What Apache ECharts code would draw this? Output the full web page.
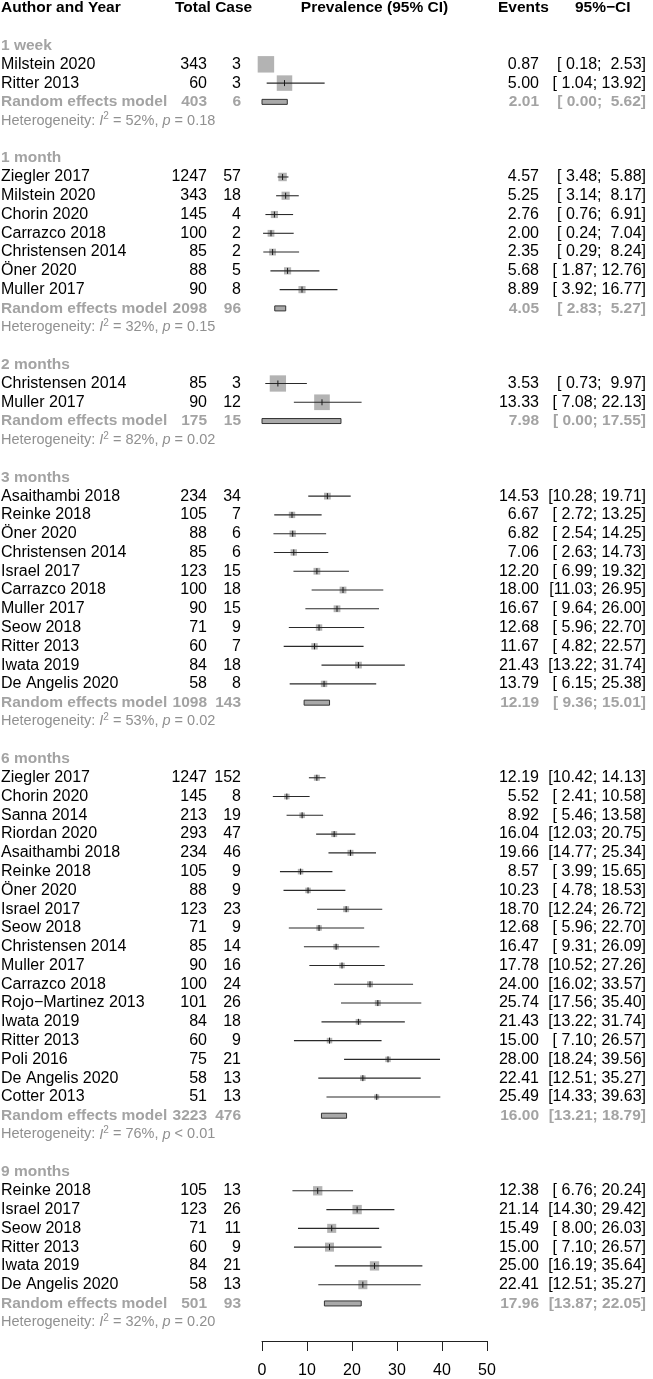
<!DOCTYPE html>
<html><head><meta charset="utf-8">
<script src="https://cdn.jsdelivr.net/npm/echarts@6/dist/echarts.min.js"></script>
<style>html,body{margin:0;padding:0;background:#fff}#c{width:653px;height:1379px}</style>
</head><body><div id="c"></div>
<script>
// ---------- DATA ----------
const groups = ['1 week', '1 month', '2 months', '3 months', '6 months', '9 months'];
const groupSizes = [2, 7, 2, 11, 18, 6];
const authors = [
  'Milstein 2020', 'Ritter 2013',
  'Ziegler 2017', 'Milstein 2020', 'Chorin 2020', 'Carrazco 2018', 'Christensen 2014', 'Öner 2020', 'Muller 2017',
  'Christensen 2014', 'Muller 2017',
  'Asaithambi 2018', 'Reinke 2018', 'Öner 2020', 'Christensen 2014', 'Israel 2017', 'Carrazco 2018', 'Muller 2017', 'Seow 2018', 'Ritter 2013', 'Iwata 2019', 'De Angelis 2020',
  'Ziegler 2017', 'Chorin 2020', 'Sanna 2014', 'Riordan 2020', 'Asaithambi 2018', 'Reinke 2018', 'Öner 2020', 'Israel 2017', 'Seow 2018', 'Christensen 2014', 'Muller 2017', 'Carrazco 2018', 'Rojo\u2212Martinez 2013', 'Iwata 2019', 'Ritter 2013', 'Poli 2016', 'De Angelis 2020', 'Cotter 2013',
  'Reinke 2018', 'Israel 2017', 'Seow 2018', 'Ritter 2013', 'Iwata 2019', 'De Angelis 2020'
];
const totals = [
  343, 60,
  1247, 343, 145, 100, 85, 88, 90,
  85, 90,
  234, 105, 88, 85, 123, 100, 90, 71, 60, 84, 58,
  1247, 145, 213, 293, 234, 105, 88, 123, 71, 85, 90, 100, 101, 84, 60, 75, 58, 51,
  105, 123, 71, 60, 84, 58
];
const cases = [
  3, 3,
  57, 18, 4, 2, 2, 5, 8,
  3, 12,
  34, 7, 6, 6, 15, 18, 15, 9, 7, 18, 8,
  152, 8, 19, 47, 46, 9, 9, 23, 9, 14, 16, 24, 26, 18, 9, 21, 13, 13,
  13, 26, 11, 9, 21, 13
];
const estimates = [
  0.87, 5.00,
  4.57, 5.25, 2.76, 2.00, 2.35, 5.68, 8.89,
  3.53, 13.33,
  14.53, 6.67, 6.82, 7.06, 12.20, 18.00, 16.67, 12.68, 11.67, 21.43, 13.79,
  12.19, 5.52, 8.92, 16.04, 19.66, 8.57, 10.23, 18.70, 12.68, 16.47, 17.78, 24.00, 25.74, 21.43, 15.00, 28.00, 22.41, 25.49,
  12.38, 21.14, 15.49, 15.00, 25.00, 22.41
];
const lowers = [
  0.18, 1.04,
  3.48, 3.14, 0.76, 0.24, 0.29, 1.87, 3.92,
  0.73, 7.08,
  10.28, 2.72, 2.54, 2.63, 6.99, 11.03, 9.64, 5.96, 4.82, 13.22, 6.15,
  10.42, 2.41, 5.46, 12.03, 14.77, 3.99, 4.78, 12.24, 5.96, 9.31, 10.52, 16.02, 17.56, 13.22, 7.10, 18.24, 12.51, 14.33,
  6.76, 14.30, 8.00, 7.10, 16.19, 12.51
];
const uppers = [
  2.53, 13.92,
  5.88, 8.17, 6.91, 7.04, 8.24, 12.76, 16.77,
  9.97, 22.13,
  19.71, 13.25, 14.25, 14.73, 19.32, 26.95, 26.00, 22.70, 22.57, 31.74, 25.38,
  14.13, 10.58, 13.58, 20.75, 25.34, 15.65, 18.53, 26.72, 22.70, 26.09, 27.26, 33.57, 35.40, 31.74, 26.57, 39.56, 35.27, 39.63,
  20.24, 29.42, 26.03, 26.57, 35.64, 35.27
];
// estimated within-subgroup weights (%), read from square sizes
const weights = [
  53, 47,
  14, 13, 10, 9, 9, 10, 10,
  52, 48,
  9, 8, 8, 8, 9, 9, 9, 8, 8, 9, 8,
  7, 6, 6, 7, 7, 6, 6, 7, 6, 6, 6, 7, 7, 6, 6, 6, 6, 5,
  17, 17, 16, 16, 17, 16
];
const reTotals = [403, 2098, 175, 1098, 3223, 501];
const reCases = [6, 96, 15, 143, 476, 93];
const reEst = [2.01, 4.05, 7.98, 12.19, 16.00, 17.96];
const reLower = [0.00, 2.83, 0.00, 9.36, 13.21, 13.87];
const reUpper = [5.62, 5.27, 17.55, 15.01, 18.79, 22.05];
const hetI2 = [52, 32, 82, 53, 76, 32];
const hetP = ['= 0.18', '= 0.15', '= 0.02', '= 0.02', '< 0.01', '= 0.20'];
const xTicks = [0, 10, 20, 30, 40, 50];
const headers = ['Author and Year', 'Total Case', 'Prevalence (95% CI)', 'Events', '95%\u2212CI'];

// ---------- LAYOUT ----------
const FONT = "'Liberation Sans', Arial, Helvetica, sans-serif";
const FS = 16, BFS = 15.5, HFS = 14.5;
const GRAY = '#a3a3a3', HGRAY = '#909090';
const X_AUTH = 1, X_TOTAL = 207, X_CASE = 241, X_EV = 539, X_CI = 646;
const SQ = 2.26;

const textRows = [], studyRows = [], reRows = [];
textRows.push({ row: 0, kind: 'header' });
let row = 2, k = 0;
groups.forEach((g, gi) => {
  textRows.push({ row, kind: 'group', gi }); row++;
  for (let j = 0; j < groupSizes[gi]; j++, k++) {
    studyRows.push({ row, i: k });
    textRows.push({ row, kind: 'study', i: k });
    row++;
  }
  reRows.push({ row, gi }); textRows.push({ row, kind: 're', gi }); row++;
  textRows.push({ row, kind: 'het', gi }); row++;
  row++;
});
const AXIS_ROW = row - 1;

function pad(v) { const s = v.toFixed(2); return v < 10 ? ' ' + s : s; }
function ciText(lo, hi) { return '[' + pad(lo) + '; ' + pad(hi) + ']'; }

function txt(x, y, text, align, color, weight) {
  const bold = weight === 'bold';
  return {
    type: 'text', x: x, y: y,
    style: {
      text: text, fill: color, align: align, verticalAlign: 'middle',
      fontFamily: FONT, fontSize: bold ? BFS : FS, fontWeight: bold ? 'bold' : 'normal'
    }
  };
}

function renderText(params, api) {
  const r = textRows[params.dataIndex];
  const y = api.coord([0, r.row])[1];
  const ch = [];
  if (r.kind === 'header') {
    ch.push(txt(X_AUTH, y, headers[0], 'left', '#000', 'bold'));
    ch.push(txt(175, y, headers[1], 'left', '#000', 'bold'));
    const xc = (api.coord([0, 0])[0] + api.coord([50, 0])[0]) / 2;
    ch.push(txt(xc, y, headers[2], 'center', '#000', 'bold'));
    ch.push(txt(498, y, headers[3], 'left', '#000', 'bold'));
    ch.push(txt(575, y, headers[4], 'left', '#000', 'bold'));
  } else if (r.kind === 'group') {
    ch.push(txt(X_AUTH, y, groups[r.gi], 'left', GRAY, 'bold'));
  } else if (r.kind === 'study') {
    const i = r.i;
    ch.push(txt(X_AUTH, y, authors[i], 'left', '#000'));
    ch.push(txt(X_TOTAL, y, String(totals[i]), 'right', '#000'));
    ch.push(txt(X_CASE, y, String(cases[i]), 'right', '#000'));
    ch.push(txt(X_EV, y, estimates[i].toFixed(2), 'right', '#000'));
    ch.push(txt(X_CI, y, ciText(lowers[i], uppers[i]), 'right', '#000'));
  } else if (r.kind === 're') {
    const g = r.gi;
    ch.push(txt(X_AUTH, y, 'Random effects model', 'left', GRAY, 'bold'));
    ch.push(txt(X_TOTAL, y, String(reTotals[g]), 'right', GRAY, 'bold'));
    ch.push(txt(X_CASE, y, String(reCases[g]), 'right', GRAY, 'bold'));
    ch.push(txt(X_EV, y, reEst[g].toFixed(2), 'right', GRAY, 'bold'));
    ch.push(txt(X_CI, y, ciText(reLower[g], reUpper[g]), 'right', GRAY, 'bold'));
  } else if (r.kind === 'het') {
    const g = r.gi;
    const base = { fontFamily: FONT, fontSize: HFS, fill: HGRAY, lineHeight: 18 };
    ch.push({
      type: 'text', x: X_AUTH, y: y,
      style: {
        text: '{n|Heterogeneity: }{it|I}{sup|2}{n| = ' + hetI2[g] + '%, }{it|p}{n| ' + hetP[g] + '}',
        align: 'left', verticalAlign: 'middle', fill: HGRAY, fontFamily: FONT, fontSize: HFS,
        rich: {
          n: Object.assign({}, base),
          it: Object.assign({}, base, { fontStyle: 'italic' }),
          sup: { fontFamily: FONT, fontSize: 10, fill: HGRAY, verticalAlign: 'top', lineHeight: 10 }
        }
      }
    });
  }
  return { type: 'group', children: ch };
}

function renderStudy(params, api) {
  const y = api.coord([0, api.value(1)])[1];
  const xe = api.coord([api.value(0), 0])[0];
  const xl = api.coord([api.value(2), 0])[0];
  const xh = api.coord([api.value(3), 0])[0];
  const s = SQ * Math.sqrt(api.value(4));
  const children = [
    { type: 'rect', shape: { x: xe - s / 2, y: y - s / 2, width: s, height: s }, style: { fill: '#b3b3b3' } }
  ];
  const inside = xl >= xe - s / 2 && xh <= xe + s / 2;
  if (!inside) {
    children.push({ type: 'line', shape: { x1: xl, y1: y, x2: xh, y2: y }, style: { stroke: '#2a2a2a', lineWidth: 1.1 } });
    children.push({ type: 'line', shape: { x1: xe, y1: y - 3, x2: xe, y2: y + 3 }, style: { stroke: '#1a1a1a', lineWidth: 1 } });
  }
  return { type: 'group', children: children };
}

function renderRE(params, api) {
  const y = api.coord([0, api.value(1)])[1];
  const xl = api.coord([api.value(2), 0])[0];
  const xh = api.coord([api.value(3), 0])[0];
  return {
    type: 'rect', shape: { x: xl, y: y - 2.5, width: xh - xl, height: 5 },
    style: { fill: '#a9a9a9', stroke: '#333', lineWidth: 1 }
  };
}

const chart = echarts.init(document.getElementById('c'), null, { renderer: 'canvas' });
chart.setOption({
  animation: false,
  backgroundColor: '#fff',
  grid: { left: 262, right: 166, top: 8, bottom: 36, containLabel: false },
  xAxis: {
    type: 'value', min: xTicks[0], max: xTicks[xTicks.length - 1], interval: xTicks[1] - xTicks[0],
    position: 'bottom',
    axisLine: { show: true, onZero: false, lineStyle: { color: '#222', width: 1 } },
    axisTick: { show: true, length: 10, lineStyle: { color: '#222', width: 1 } },
    axisLabel: { fontSize: 16, color: '#000', fontFamily: FONT, margin: 22 },
    splitLine: { show: false }
  },
  yAxis: { type: 'value', min: 0, max: AXIS_ROW, inverse: true, show: false },
  series: [
    {
      type: 'custom', coordinateSystem: 'cartesian2d', silent: true, clip: false,
      data: reRows.map(r => [reEst[r.gi], r.row, reLower[r.gi], reUpper[r.gi]]),
      renderItem: renderRE
    },
    {
      type: 'custom', coordinateSystem: 'cartesian2d', silent: true, clip: false,
      data: studyRows.map(r => [estimates[r.i], r.row, lowers[r.i], uppers[r.i], weights[r.i]]),
      renderItem: renderStudy
    },
    {
      type: 'custom', coordinateSystem: 'cartesian2d', silent: true, clip: false,
      data: textRows.map(r => [0, r.row]),
      renderItem: renderText
    }
  ]
});
</script></body></html>
